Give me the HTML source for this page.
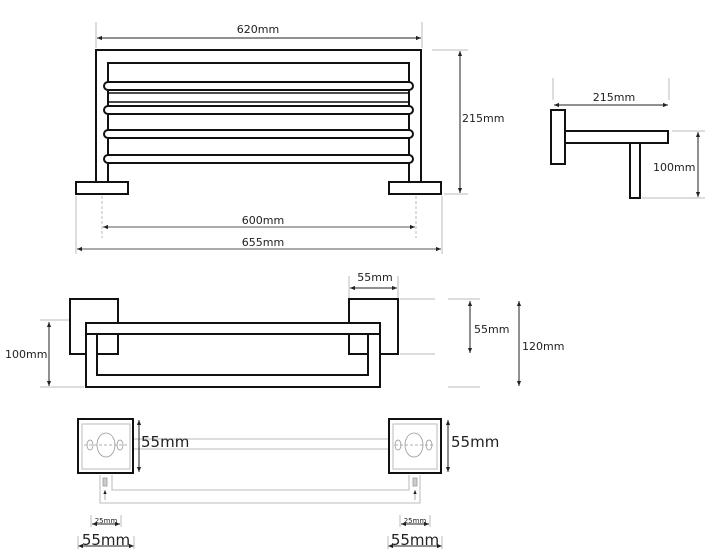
<!DOCTYPE html>
<html><head><meta charset="utf-8"><style>
html,body{margin:0;padding:0;background:#fff;}
svg{display:block;}
text{font-family:"DejaVu Sans","Liberation Sans",sans-serif;fill:#222;}
</style></head><body>
<svg width="708" height="560" viewBox="0 0 708 560" xmlns="http://www.w3.org/2000/svg">
<defs>
<marker id="a" viewBox="0 0 6 6" refX="6" refY="3" markerWidth="5" markerHeight="5" orient="auto-start-reverse"><path d="M0,0.5 L6,3 L0,5.5z" fill="#222"/></marker>
</defs>
<g fill="none" stroke="#bbb" stroke-width="1">
<!-- extension lines top -->
<line x1="96" y1="22" x2="96" y2="48"/><line x1="422" y1="22" x2="422" y2="48"/>
<line x1="432" y1="50" x2="468" y2="50"/><line x1="444" y1="194" x2="468" y2="194"/>
<line x1="76" y1="196" x2="76" y2="254"/><line x1="442" y1="196" x2="442" y2="254"/>
<line x1="102" y1="196" x2="102" y2="238" stroke-dasharray="3,2"/><line x1="416" y1="196" x2="416" y2="238" stroke-dasharray="3,2"/>
<line x1="553" y1="78" x2="553" y2="100"/><line x1="669" y1="78" x2="669" y2="100"/>
<line x1="672" y1="131" x2="705" y2="131"/><line x1="642" y1="198" x2="705" y2="198"/>
<!-- front view extensions -->
<line x1="349" y1="276" x2="349" y2="298"/><line x1="398" y1="276" x2="398" y2="298"/>
<line x1="400" y1="299" x2="435" y2="299"/><line x1="400" y1="354" x2="435" y2="354"/>
<line x1="448" y1="299" x2="480" y2="299"/><line x1="448" y1="387" x2="480" y2="387"/>
<line x1="40" y1="320" x2="70" y2="320"/><line x1="40" y1="387" x2="84" y2="387"/>
</g>
<g stroke="#222" stroke-width="1" fill="none">
<line x1="97" y1="38" x2="421" y2="38" marker-start="url(#a)" marker-end="url(#a)"/>
<line x1="460" y1="51" x2="460" y2="193" marker-start="url(#a)" marker-end="url(#a)"/>
<line x1="103" y1="227" x2="415" y2="227" marker-start="url(#a)" marker-end="url(#a)" stroke="#555"/>
<line x1="77" y1="249" x2="441" y2="249" marker-start="url(#a)" marker-end="url(#a)" stroke="#555"/>
<line x1="554" y1="105" x2="668" y2="105" marker-start="url(#a)" marker-end="url(#a)"/>
<line x1="698" y1="132" x2="698" y2="197" marker-start="url(#a)" marker-end="url(#a)"/>
<line x1="350" y1="288" x2="397" y2="288" marker-start="url(#a)" marker-end="url(#a)"/>
<line x1="470" y1="301" x2="470" y2="353" marker-start="url(#a)" marker-end="url(#a)"/>
<line x1="519" y1="301" x2="519" y2="386" marker-start="url(#a)" marker-end="url(#a)"/>
<line x1="49" y1="322" x2="49" y2="386" marker-start="url(#a)" marker-end="url(#a)"/>
</g>
<g font-size="11">
<text x="258" y="33" text-anchor="middle">620mm</text>
<text x="462" y="122">215mm</text>
<text x="263" y="224" text-anchor="middle">600mm</text>
<text x="263" y="246" text-anchor="middle">655mm</text>
<text x="614" y="101" text-anchor="middle">215mm</text>
<text x="653" y="171">100mm</text>
<text x="375" y="281" text-anchor="middle">55mm</text>
<text x="474" y="333">55mm</text>
<text x="522" y="350">120mm</text>
<text x="5" y="358">100mm</text>
</g>
<!-- top view -->
<g stroke="#111" stroke-width="2" fill="none">
<path d="M96,182 V50 H421 V182"/>
<path d="M108,182 V63 H409 V182"/>
<rect x="76" y="182" width="52" height="12" fill="#fff"/>
<rect x="389" y="182" width="52" height="12" fill="#fff"/>
<g fill="#fff">
<rect x="104" y="82" width="309" height="8" rx="4"/>
<rect x="104" y="106" width="309" height="8" rx="4"/>
<rect x="104" y="130" width="309" height="8" rx="4"/>
<rect x="104" y="155" width="309" height="8" rx="4"/>
</g>
<line x1="109" y1="93" x2="408" y2="93" stroke-width="1.5"/>
<line x1="109" y1="102" x2="408" y2="102" stroke-width="1.5"/>
</g>
<!-- side view -->
<g stroke="#111" stroke-width="2" fill="#fff">
<rect x="551" y="110" width="14" height="54"/>
<rect x="565" y="131" width="103" height="12"/>
<rect x="630" y="143" width="10" height="55"/>
</g>
<!-- front view -->
<g stroke="#111" stroke-width="2">
<rect x="70" y="299" width="48" height="55" fill="none"/>
<rect x="349" y="299" width="49" height="55" fill="none"/>
<path d="M86,323 H380 V387 H86 Z M97,334 V375 H368 V334 Z" fill="#fff" fill-rule="evenodd"/>
<line x1="86" y1="334" x2="380" y2="334"/>
</g>
<!-- bottom view -->
<g stroke="#bbb" stroke-width="1" fill="none">
<line x1="134" y1="439" x2="389" y2="439"/><line x1="134" y1="449" x2="389" y2="449"/>
<path d="M100,475 V503 H420 V475"/>
<path d="M112,475 V490 H409 V475"/>
<rect x="82" y="424" width="48" height="45"/>
<rect x="393" y="424" width="44" height="45"/>
</g>
<g stroke="#999" stroke-width="0.8" fill="none">
<ellipse cx="106" cy="445" rx="9" ry="12"/><ellipse cx="90" cy="445" rx="3" ry="5"/><ellipse cx="120" cy="445" rx="3" ry="5"/>
<ellipse cx="414" cy="445" rx="9" ry="12"/><ellipse cx="398" cy="445" rx="3" ry="5"/><ellipse cx="429" cy="445" rx="3" ry="5"/>
<line x1="84" y1="445" x2="128" y2="445" stroke-dasharray="3,2"/>
<line x1="395" y1="445" x2="435" y2="445" stroke-dasharray="3,2"/>
<rect x="103" y="478" width="4" height="8" fill="#ccc"/><rect x="413" y="478" width="4" height="8" fill="#ccc"/>
<line x1="105" y1="490" x2="105" y2="500" marker-start="url(#a)"/><line x1="415" y1="490" x2="415" y2="500" marker-start="url(#a)"/>
</g>
<g stroke="#111" stroke-width="2" fill="none">
<rect x="78" y="419" width="55" height="54"/>
<rect x="389" y="419" width="52" height="54"/>
</g>
<g stroke="#222" stroke-width="1">
<line x1="139" y1="420" x2="139" y2="472" marker-start="url(#a)" marker-end="url(#a)"/>
<line x1="448" y1="420" x2="448" y2="472" marker-start="url(#a)" marker-end="url(#a)"/>
<line x1="92" y1="524" x2="120" y2="524" marker-start="url(#a)" marker-end="url(#a)"/>
<line x1="401" y1="524" x2="429" y2="524" marker-start="url(#a)" marker-end="url(#a)"/>
<line x1="78" y1="546" x2="134" y2="546" marker-start="url(#a)" marker-end="url(#a)"/>
<line x1="388" y1="546" x2="442" y2="546" marker-start="url(#a)" marker-end="url(#a)"/>
</g>
<g stroke="#bbb" stroke-width="1">
<line x1="91" y1="515" x2="91" y2="527"/><line x1="121" y1="515" x2="121" y2="527"/>
<line x1="400" y1="515" x2="400" y2="527"/><line x1="430" y1="515" x2="430" y2="527"/>
<line x1="78" y1="536" x2="78" y2="549"/><line x1="134" y1="536" x2="134" y2="549"/>
<line x1="388" y1="536" x2="388" y2="549"/><line x1="442" y1="536" x2="442" y2="549"/>
</g>
<g>
<text x="141" y="447" font-size="15">55mm</text>
<text x="451" y="447" font-size="15">55mm</text>
<text x="106" y="523" font-size="7" text-anchor="middle">25mm</text>
<text x="415" y="523" font-size="7" text-anchor="middle">25mm</text>
<text x="106" y="545" font-size="15" text-anchor="middle">55mm</text>
<text x="415" y="545" font-size="15" text-anchor="middle">55mm</text>
</g>
</svg>
</body></html>
